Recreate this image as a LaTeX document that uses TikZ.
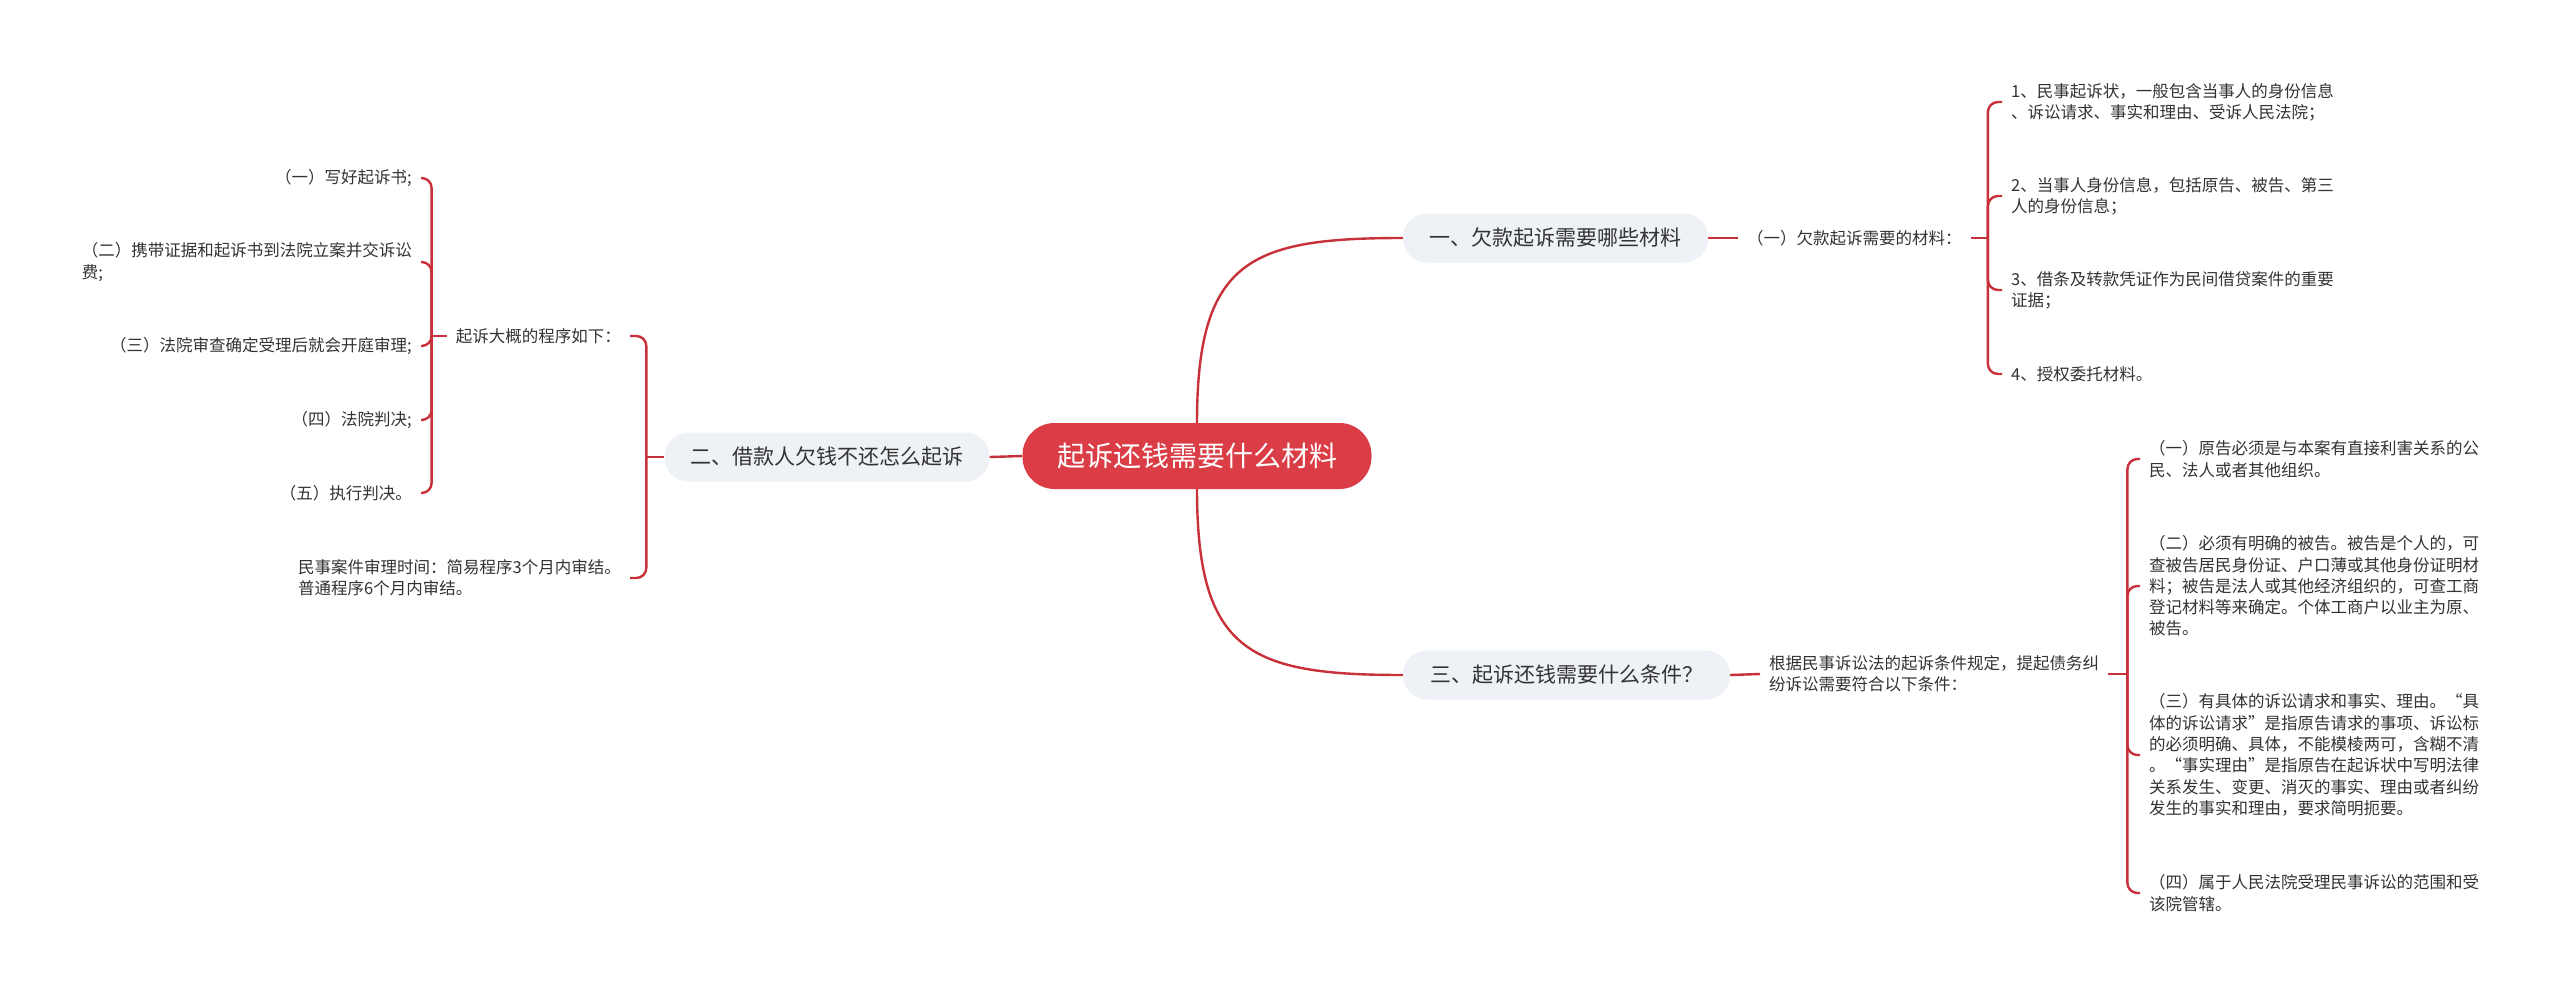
\documentclass[tikz,border=0pt]{standalone}
\usepackage{fontspec}
\setmainfont{Noto Sans CJK SC}
\usetikzlibrary{calc}
\definecolor{linered}{RGB}{200,48,58}
\definecolor{rootred}{RGB}{218,61,69}
\definecolor{branchbg}{RGB}{238,241,245}
\definecolor{txt}{RGB}{51,51,51}
\tikzset{
  conn/.style={draw=linered, line width=2.4pt},
  hook/.style={conn, rounded corners=10pt},
  rootbox/.style={fill=rootred, text=white, rounded corners=32pt, minimum height=66pt, inner sep=0pt, font=\fontsize{28}{32}\selectfont},
  branchbox/.style={fill=branchbg, text=txt, rounded corners=24pt, minimum height=49pt, inner sep=0pt, font=\fontsize{21}{25}\selectfont},
  leaf/.style={text=txt, inner xsep=9pt, inner ysep=2pt, font=\fontsize{16.5}{21.3}\selectfont, align=left},
}
\begin{document}
\begin{tikzpicture}[x=1pt,y=-1pt]
\useasboundingbox (0,0) rectangle (2560,993);
\fill[white] (0,0) rectangle (2560,993);

% root and branches
\node[rootbox, minimum width=349pt] (root) at (1197,456) {起诉还钱需要什么材料};
\node[branchbox, minimum width=305pt] (b1) at (1555.5,238) {一、欠款起诉需要哪些材料};
\node[branchbox, minimum width=325pt] (b2) at (827,457) {二、借款人欠钱不还怎么起诉};
\node[branchbox, minimum width=327pt] (b3) at (1566.5,675) {三、起诉还钱需要什么条件？};

\draw[conn] (root.north) .. controls +(0,-163) and +(-153,0) .. (b1.west);
\draw[conn] (root.south) .. controls +(0,163) and +(-153,0) .. (b3.west);
\draw[conn] (root.west) -- (b2.east);

% branch 1
\node[leaf, anchor=west] (p1) at (1738,238) {（一）欠款起诉需要的材料：};
\draw[conn] (b1.east) -- (p1.west);
\node[leaf, anchor=west] (c1) at (2002,102) {1、民事起诉状，一般包含当事人的身份信息\\、诉讼请求、事实和理由、受诉人民法院；};
\node[leaf, anchor=west] (c2) at (2002,196) {2、当事人身份信息，包括原告、被告、第三\\人的身份信息；};
\node[leaf, anchor=west] (c3) at (2002,290) {3、借条及转款凭证作为民间借贷案件的重要\\证据；};
\node[leaf, anchor=west] (c4) at (2002,374) {4、授权委托材料。};
\coordinate (k1) at ($(p1.east)+(17,0)$);
\draw[conn] (p1.east) -- (k1);
\foreach \c in {c1,c2,c3,c4} \draw[hook] (k1) |- (\c.west);

% branch 3
\node[leaf, anchor=west] (p3) at (1760,674) {根据民事诉讼法的起诉条件规定，提起债务纠\\纷诉讼需要符合以下条件：};
\draw[conn] (b3.east) -- (p3.west);
\node[leaf, anchor=west] (d1) at (2140,459) {（一）原告必须是与本案有直接利害关系的公\\民、法人或者其他组织。};
\node[leaf, anchor=west] (d2) at (2140,586) {（二）必须有明确的被告。被告是个人的，可\\查被告居民身份证、户口薄或其他身份证明材\\料；被告是法人或其他经济组织的，可查工商\\登记材料等来确定。个体工商户以业主为原、\\被告。};
\node[leaf, anchor=west] (d3) at (2140,755) {（三）有具体的诉讼请求和事实、理由。“具\\体的诉讼请求”是指原告请求的事项、诉讼标\\的必须明确、具体，不能模棱两可，含糊不清\\。“事实理由”是指原告在起诉状中写明法律\\关系发生、变更、消灭的事实、理由或者纠纷\\发生的事实和理由，要求简明扼要。};
\node[leaf, anchor=west] (d4) at (2140,893) {（四）属于人民法院受理民事诉讼的范围和受\\该院管辖。};
\coordinate (k3) at ($(p3.east)+(19,0)$);
\draw[conn] (p3.east) -- (k3);
\foreach \c in {d1,d2,d3,d4} \draw[hook] (k3) |- (\c.west);

% branch 2
\node[leaf, anchor=east] (lp) at (630,336) {起诉大概的程序如下：};
\node[leaf, anchor=east] (note) at (630,578) {民事案件审理时间：简易程序3个月内审结。\\普通程序6个月内审结。};
\coordinate (k2) at ($(b2.west)+(-18,0)$);
\draw[conn] (b2.west) -- (k2);
\foreach \c in {lp,note} \draw[hook] (k2) |- (\c.east);

\node[leaf, anchor=east] (e1) at (421,178) {（一）写好起诉书;};
\node[leaf, anchor=east] (e2) at (421,262) {（二）携带证据和起诉书到法院立案并交诉讼\\费;};
\node[leaf, anchor=east] (e3) at (421,346) {（三）法院审查确定受理后就会开庭审理;};
\node[leaf, anchor=east] (e4) at (421,420) {（四）法院判决;};
\node[leaf, anchor=east] (e5) at (421,493) {（五）执行判决。};
\coordinate (k4) at ($(lp.west)+(-15,0)$);
\draw[conn] (lp.west) -- (k4);
\foreach \c in {e1,e2,e3,e4,e5} \draw[hook] (k4) |- (\c.east);
\end{tikzpicture}
\end{document}
